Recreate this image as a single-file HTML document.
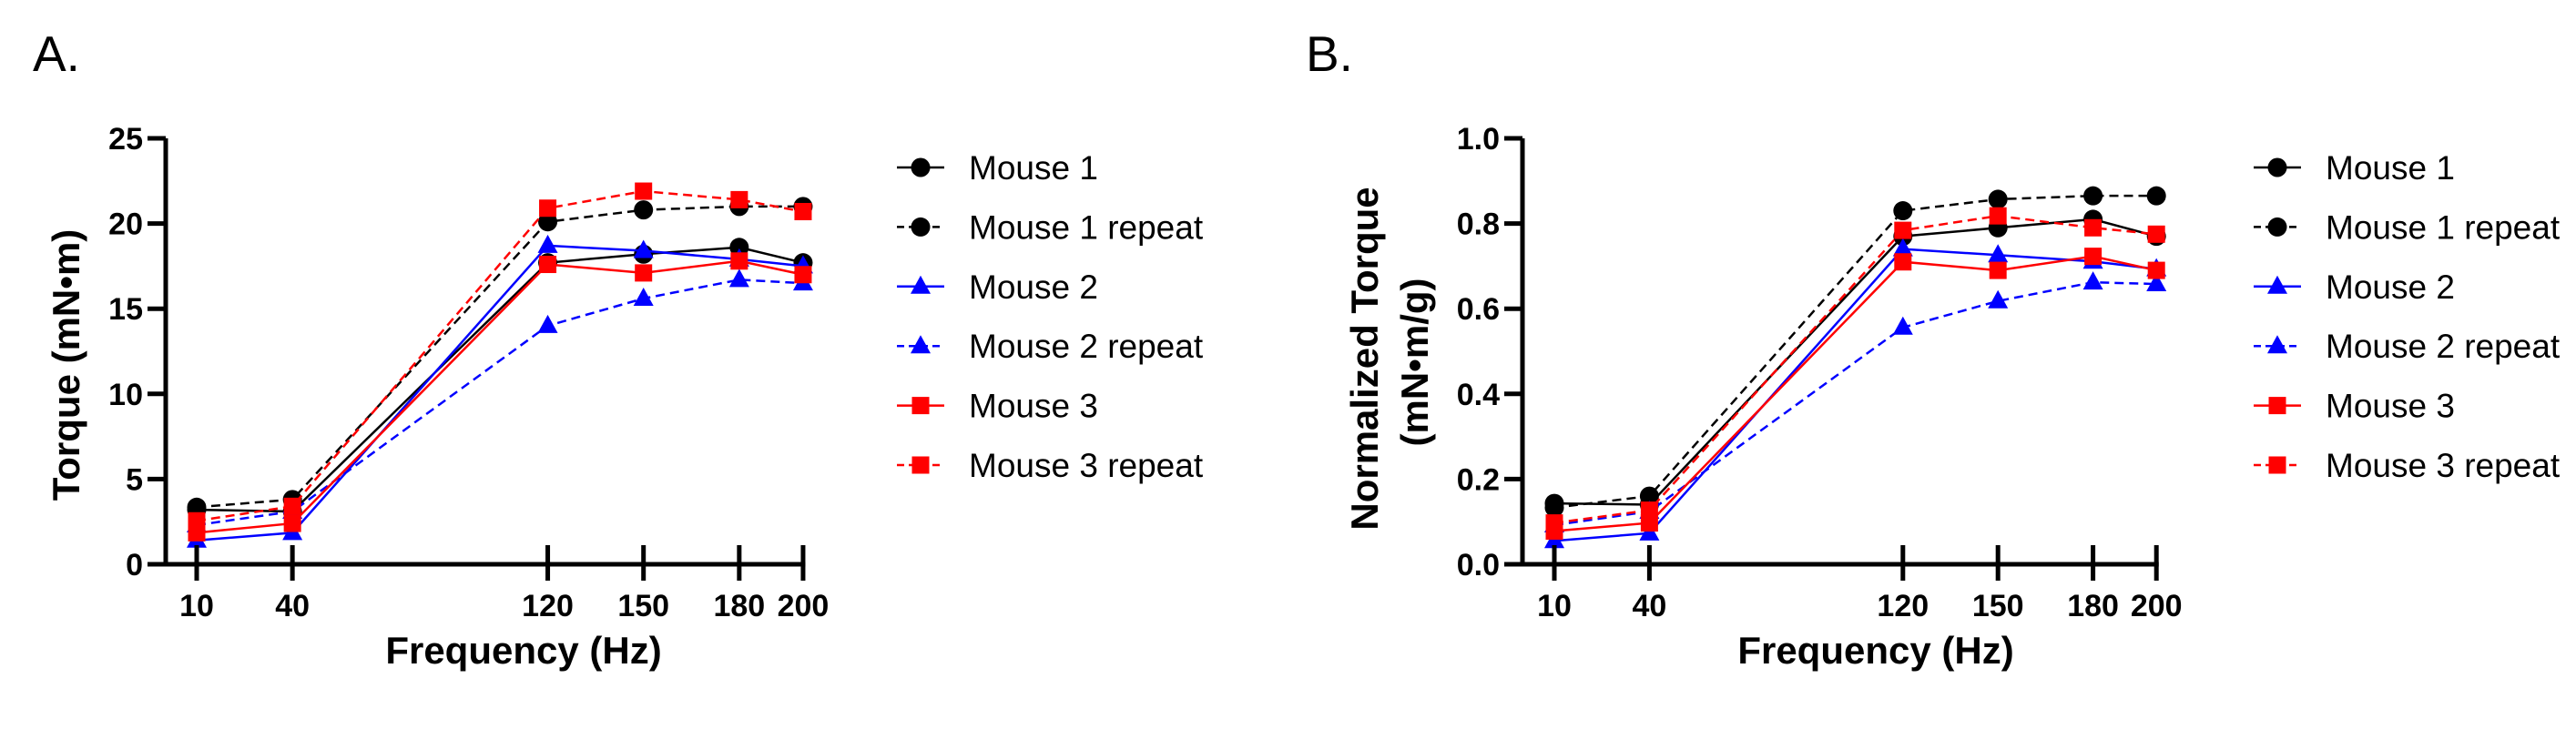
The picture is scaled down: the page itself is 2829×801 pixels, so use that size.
<!DOCTYPE html>
<html><head><meta charset="utf-8"><style>
html,body{margin:0;padding:0;background:#fff;}
svg{display:block;font-family:"Liberation Sans",Arial,sans-serif;}
</style></head><body>
<svg id="chart" width="2829" height="801" viewBox="0 0 2829 801" xmlns="http://www.w3.org/2000/svg">
<rect width="2829" height="801" fill="#fff"/>
<g id="root"></g>
</svg>
<script>
const freqs = [10, 40, 120, 150, 180, 200];
const seriesNames = ["Mouse 1","Mouse 1 repeat","Mouse 2","Mouse 2 repeat","Mouse 3","Mouse 3 repeat"];
const torqueM1  = [3.2, 3.1, 17.7, 18.2, 18.6, 17.7];
const torqueM1r = [3.35, 3.8, 20.1, 20.8, 21.0, 21.0];
const torqueM2  = [1.4, 1.85, 18.7, 18.4, 17.9, 17.5];
const torqueM2r = [2.3, 3.1, 14.0, 15.6, 16.7, 16.5];
const torqueM3  = [1.85, 2.4, 17.6, 17.1, 17.8, 17.0];
const torqueM3r = [2.55, 3.4, 20.9, 21.9, 21.4, 20.7];
const normM1  = [0.143, 0.14, 0.77, 0.79, 0.81, 0.77];
const normM1r = [0.133, 0.16, 0.83, 0.857, 0.865, 0.865];
const normM2  = [0.055, 0.073, 0.74, 0.726, 0.711, 0.693];
const normM2r = [0.092, 0.124, 0.556, 0.618, 0.662, 0.658];
const normM3  = [0.078, 0.097, 0.71, 0.69, 0.723, 0.69];
const normM3r = [0.097, 0.127, 0.784, 0.818, 0.79, 0.775];
const ticksA = [0, 5, 10, 15, 20, 25];
const tickLabelsA = ["0","5","10","15","20","25"];
const ticksB = [0, 0.2, 0.4, 0.6, 0.8, 1.0];
const tickLabelsB = ["0.0","0.2","0.4","0.6","0.8","1.0"];

const NS = "http://www.w3.org/2000/svg";
const root = document.getElementById("root");
function mk(tag, attrs, parent){
  const e = document.createElementNS(NS, tag);
  for (const k in attrs) e.setAttribute(k, attrs[k]);
  (parent||root).appendChild(e);
  return e;
}
const styles = [
  {c:"#000", dash:null, m:"circle"},
  {c:"#000", dash:"10 6", m:"circle"},
  {c:"#0000ff", dash:null, m:"tri"},
  {c:"#0000ff", dash:"10 6", m:"tri"},
  {c:"#ff0000", dash:null, m:"square"},
  {c:"#ff0000", dash:"10 6", m:"square"}
];
function marker(g, type, x, y, c){
  let e;
  if (type==="circle") e = mk("circle",{cx:x,cy:y,r:10.5,fill:c},g);
  else if (type==="square") e = mk("rect",{x:x-9.5,y:y-9.5,width:19,height:19,fill:c},g);
  else e = mk("polygon",{points:`${x},${y-12} ${x+11},${y+8} ${x-11},${y+8}`,fill:c},g);
  
  
}

function panel(opt){
  const g = mk("g",{});
  
  
  const xs = f => opt.x10 + (f-10)*opt.k;
  const ys = v => 620 - (v/opt.ymax)*468;
  const lab = mk("text",{x:opt.labX,y:78,"font-size":55},g);
  lab.textContent = opt.label;
  
  
  opt.series.forEach((vals,i)=>{
    const s = styles[i];
    const sg = mk("g",{},g);
    
    
    const pts = vals.map((v,j)=>xs(freqs[j])+","+ys(v)).join(" ");
    const pl = mk("polyline",{points:pts,fill:"none",stroke:s.c,"stroke-width":2.5},sg);
    if (s.dash) pl.setAttribute("stroke-dasharray", s.dash);
    
    
    vals.forEach((v,j)=>marker(sg, s.m, xs(freqs[j]), ys(v), s.c));
  });
  const ax = mk("g",{},g);
  
  
  const xEnd = xs(200);
  mk("line",{x1:opt.axX,y1:152,x2:opt.axX,y2:622.5,stroke:"#000","stroke-width":5},ax);
  mk("line",{x1:opt.axX-2.5,y1:620,x2:xEnd+2.5,y2:620,stroke:"#000","stroke-width":5},ax);
  opt.ticks.forEach((t,i)=>{
    const y = ys(t);
    mk("line",{x1:opt.axX-20,y1:y,x2:opt.axX,y2:y,stroke:"#000","stroke-width":5},ax);
    const tl = mk("text",{x:opt.axX-25,y:y+12,"font-size":34,"font-weight":"bold","text-anchor":"end"},ax);
    tl.textContent = opt.tickLabels[i];
    
    
  });
  freqs.forEach(f=>{
    const x = xs(f);
    mk("line",{x1:x,y1:599,x2:x,y2:638,stroke:"#000","stroke-width":5},ax);
    const tl = mk("text",{x:x,y:677,"font-size":34,"font-weight":"bold","text-anchor":"middle"},ax);
    tl.textContent = String(f);
    
    
  });
  const xt = mk("text",{x:opt.xTitleX,y:729,"font-size":42,"font-weight":"bold","text-anchor":"middle"},ax);
  xt.textContent = "Frequency (Hz)";
  
  
  opt.yTitle.forEach((line,i)=>{
    const bx = opt.yTitleX[i], cy = opt.yTitleY[i];
    const yt = mk("text",{x:bx,y:cy,"font-size":42,"font-weight":"bold","text-anchor":"middle",transform:`rotate(-90 ${bx} ${cy})`},ax);
    yt.textContent = line;
    
    
  });
  const lg = mk("g",{},g);
  
  
  seriesNames.forEach((n,i)=>{
    const s = styles[i];
    const y = 184 + 65.4*i;
    const eg = mk("g",{},lg);
    
    
    const ln = mk("line",{x1:opt.legX-26,y1:y,x2:opt.legX+26,y2:y,stroke:s.c,"stroke-width":2.5},eg);
    if (s.dash) ln.setAttribute("stroke-dasharray","8 5");
    marker(eg, s.m, opt.legX, y, s.c);
    const t = mk("text",{x:opt.legX+53,y:y+13,"font-size":37},eg);
    t.textContent = n;
    
    
  });
}

panel({name:"panel-a", label:"A.", labX:36, axX:182, x10:216, k:3.505, ymax:25,
  ticks:ticksA, tickLabels:tickLabelsA,
  series:[torqueM1,torqueM1r,torqueM2,torqueM2r,torqueM3,torqueM3r],
  xTitleX:575, yTitle:["Torque (mN•m)"], yTitleX:[87], yTitleY:[401], legX:1011});
panel({name:"panel-b", label:"B.", labX:1434, axX:1672, x10:1707, k:3.48, ymax:1.0,
  ticks:ticksB, tickLabels:tickLabelsB,
  series:[normM1,normM1r,normM2,normM2r,normM3,normM3r],
  xTitleX:2060, yTitle:["Normalized Torque","(mN•m/g)"], yTitleX:[1513,1568], yTitleY:[394,398], legX:2501});
</script>
</body></html>
